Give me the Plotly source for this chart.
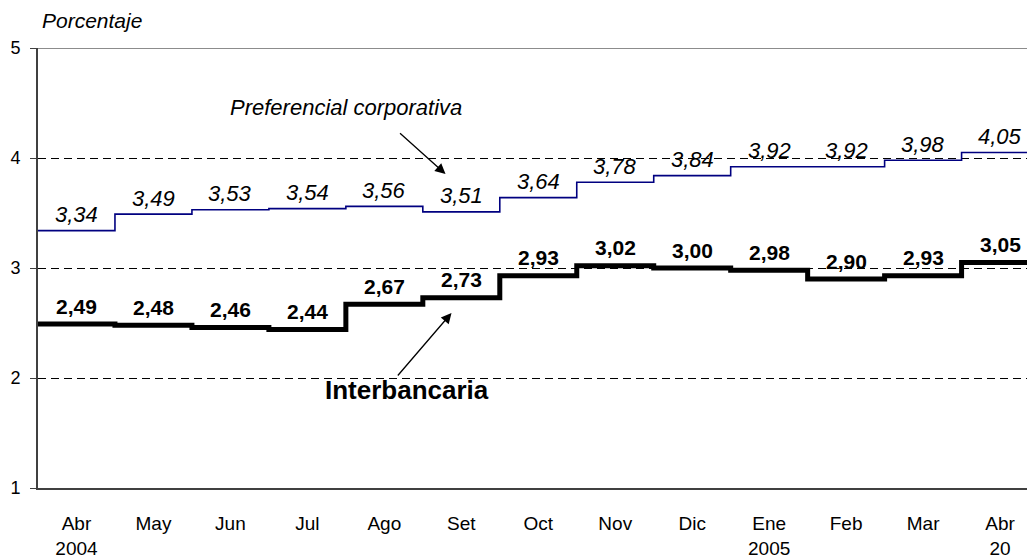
import plotly.graph_objects as go

# Tasas mensuales (porcentaje)
meses = ["Abr", "May", "Jun", "Jul", "Ago", "Set", "Oct", "Nov", "Dic", "Ene", "Feb", "Mar", "Abr"]
anios = ["2004", "", "", "", "", "", "", "", "", "2005", "", "", "20"]
preferencial = [3.34, 3.49, 3.53, 3.54, 3.56, 3.51, 3.64, 3.78, 3.84, 3.92, 3.92, 3.98, 4.05]
interbancaria = [2.49, 2.48, 2.46, 2.44, 2.67, 2.73, 2.93, 3.02, 3.00, 2.98, 2.90, 2.93, 3.05]
y_ticks = [1, 2, 3, 4, 5]

FONT = "Liberation Sans, Arial, sans-serif"
n = len(meses)
idx = list(range(n))

# each month drawn as a flat segment spanning its whole category
x_step = [i - 0.5 for i in idx] + [n - 0.5]


def fmt(v):
    return f"{v:.2f}".replace(".", ",")


fig = go.Figure()

fig.add_trace(go.Scatter(
    x=x_step, y=preferencial + [preferencial[-1]],
    mode="lines", line=dict(color="#000080", width=1.6, shape="hv"),
    hoverinfo="skip", showlegend=False,
))
fig.add_trace(go.Scatter(
    x=x_step, y=interbancaria + [interbancaria[-1]],
    mode="lines", line=dict(color="black", width=5, shape="hv"),
    hoverinfo="skip", showlegend=False,
))

annotations = []
for i, v in zip(idx, preferencial):
    annotations.append(dict(
        x=i, y=v, text=fmt(v), showarrow=False, yanchor="middle", yshift=16,
        font=dict(family=FONT, size=22, color="black", style="italic"),
    ))
for i, v in zip(idx, interbancaria):
    annotations.append(dict(
        x=i, y=v, text=f"<b>{fmt(v)}</b>", showarrow=False, yanchor="middle", yshift=18,
        font=dict(family=FONT, size=21, color="black"),
    ))

# series names with arrows
annotations.append(dict(
    x=3.5, y=4.455, text="Preferencial corporativa", showarrow=False,
    font=dict(family=FONT, size=22, color="black", style="italic"),
))
annotations.append(dict(
    x=4.795, y=3.855, ax=-47, ay=-42, text="", showarrow=True,
    arrowhead=2, arrowsize=1.6, arrowwidth=1.3, arrowcolor="black",
))
annotations.append(dict(
    x=4.3, y=1.89, text="<b>Interbancaria</b>", showarrow=False,
    font=dict(family=FONT, size=26, color="black"),
))
annotations.append(dict(
    x=4.873, y=2.591, ax=-55, ay=64, text="", showarrow=True,
    arrowhead=2, arrowsize=1.6, arrowwidth=1.3, arrowcolor="black",
))
annotations.append(dict(
    x=0, y=1, xref="paper", yref="paper", xanchor="left", yanchor="bottom",
    xshift=2, yshift=14, text="Porcentaje", showarrow=False,
    font=dict(family=FONT, size=21, color="black", style="italic"),
))

fig.update_layout(
    width=1027,
    height=559,
    plot_bgcolor="white",
    paper_bgcolor="white",
    font=dict(family=FONT, size=18, color="black"),
    margin=dict(l=38, r=0, t=48, b=71),
    showlegend=False,
    annotations=annotations,
    shapes=[dict(
        type="line", xref="paper", yref="y", x0=0, x1=1, y0=5, y1=5,
        line=dict(color="#8c8c8c", width=2), layer="above",
    )],
    xaxis=dict(
        range=[-0.5, 12.35],
        tickmode="array",
        tickvals=idx,
        ticktext=[f"{m}<br>{a}" if a else m for m, a in zip(meses, anios)],
        ticks="",
        ticklabelstandoff=17,
        showgrid=False,
        zeroline=False,
        showline=True,
        linecolor="#404040",
        linewidth=2,
        tickfont=dict(family=FONT, size=19),
    ),
    yaxis=dict(
        range=[1, 5],
        tickvals=y_ticks,
        ticks="outside",
        ticklen=6,
        tickcolor="#404040",
        ticklabelstandoff=6,
        showgrid=True,
        gridcolor="black",
        gridwidth=1,
        griddash="8px,5px",
        zeroline=False,
        showline=True,
        linecolor="#404040",
        linewidth=2,
        tickfont=dict(family=FONT, size=18),
    ),
)

# drop the default page margin so the chart sits flush at the window's corner
fig.write_html(
    "out.html",
    config={"displayModeBar": False},
    post_script="document.body.style.margin='0';",
)
